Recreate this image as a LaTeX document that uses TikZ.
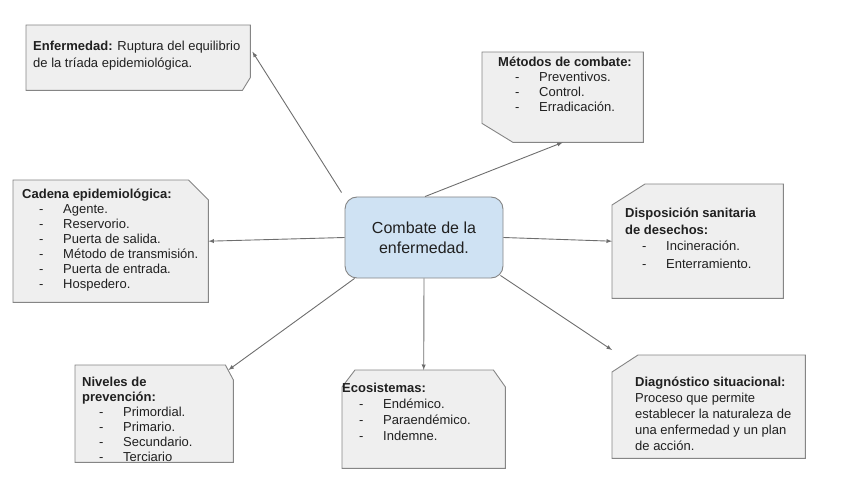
\documentclass[tikz,border=0pt]{standalone}
\usepackage{fontspec}
\setmainfont{Liberation Sans}
\usepackage{xcolor}
\usepackage{tikz}
\usetikzlibrary{calc, positioning}

\definecolor{cajagris}{HTML}{EFEFEF}
\definecolor{bordegris}{HTML}{858585}
\definecolor{azulclaro}{HTML}{CFE2F3}
\definecolor{flechagris}{HTML}{6E6E6E}
\definecolor{texto}{HTML}{202020}

\tikzset{
    zona/.style={inner sep=0pt, anchor=north west},
    contorno/.style={draw=bordegris, fill=cajagris, line width=0.9pt},
    txt/.style={inner sep=0pt, anchor=north west, align=left, text=texto,
        font=\fontsize{13}{15}\selectfont},
    centro/.style={draw=bordegris, fill=azulclaro, line width=0.9pt,
        rounded corners=12pt, align=center, text=texto,
        font=\fontsize{16}{20}\selectfont},
    conector/.style={->, draw=flechagris, line width=0.9pt}
}

% guion de lista
\newcommand{\itm}[1]{\hspace*{17pt}\makebox[24pt][l]{-}#1}

\begin{document}
\begin{tikzpicture}[>=latex, x=1pt, y=1pt]
    \useasboundingbox (0,0) rectangle (848,477);

    % Nodo central
    \node[centro, minimum width=158pt, minimum height=81pt] (mid) at (424,239.5)
        {Combate de la\\enfermedad.};

    % Zonas de las cajas
    \node[zona, minimum width=224pt, minimum height=65pt] (enf) at (26,452) {};
    \node[zona, minimum width=161pt, minimum height=90pt] (metodos) at (482,425) {};
    \node[zona, minimum width=195pt, minimum height=122pt] (cadena) at (13,297) {};
    \node[zona, minimum width=171pt, minimum height=114pt] (disposicion) at (612,293) {};
    \node[zona, minimum width=158pt, minimum height=97pt] (niveles) at (75,112) {};
    \node[zona, minimum width=163pt, minimum height=98pt] (ecosis) at (342,107) {};
    \node[zona, minimum width=193pt, minimum height=103pt] (diagnos) at (612,122) {};

    % Contornos con esquina cortada
    \draw[contorno] (enf.north west) -- (enf.north east)
        -- ([shift={(0,13)}]enf.south east) -- ([shift={(-8,0)}]enf.south east)
        -- (enf.south west) -- cycle;
    \draw[contorno] (metodos.north west) -- (metodos.north east)
        -- (metodos.south east) -- ([shift={(31,0)}]metodos.south west)
        -- ([shift={(0,19)}]metodos.south west) -- cycle;
    \draw[contorno] (cadena.north west) -- ([shift={(-20,0)}]cadena.north east)
        -- ([shift={(0,-20)}]cadena.north east) -- (cadena.south east)
        -- (cadena.south west) -- cycle;
    \draw[contorno] ([shift={(33,0)}]disposicion.north west) -- (disposicion.north east)
        -- (disposicion.south east) -- (disposicion.south west)
        -- ([shift={(0,-21)}]disposicion.north west) -- cycle;
    \draw[contorno] (niveles.north west) -- ([shift={(-8,0)}]niveles.north east)
        -- ([shift={(0,-15)}]niveles.north east) -- (niveles.south east)
        -- (niveles.south west) -- cycle;
    \draw[contorno] ([shift={(13,0)}]ecosis.north west) -- ([shift={(-12,0)}]ecosis.north east)
        -- ([shift={(0,-17)}]ecosis.north east) -- (ecosis.south east)
        -- (ecosis.south west) -- ([shift={(0,-17)}]ecosis.north west) -- cycle;
    \draw[contorno] ([shift={(26,0)}]diagnos.north west) -- (diagnos.north east)
        -- (diagnos.south east) -- (diagnos.south west)
        -- ([shift={(0,-17)}]diagnos.north west) -- cycle;

    % Textos
    \node[txt, font=\fontsize{13}{17}\selectfont] (tenf) at (33,439)
        {\strut\textbf{Enfermedad:} Ruptura del equilibrio\\de la tríada epidemiológica.};
    \node[txt] (tmetodos) at (498,421)
        {\strut\textbf{Métodos de combate:}\\\itm{Preventivos.}\\\itm{Control.}\\\itm{Erradicación.}};
    \node[txt] (tcadena) at (22,289)
        {\strut\textbf{Cadena epidemiológica:}\\\itm{Agente.}\\\itm{Reservorio.}\\
         \itm{Puerta de salida.}\\\itm{Método de transmisión.}\\\itm{Puerta de entrada.}\\
         \itm{Hospedero.}};
    \node[txt, font=\fontsize{13}{16.5}\selectfont] (tdisposicion) at (625,271)
        {\strut\textbf{Disposición sanitaria}\\\textbf{de desechos:}\\\itm{Incineración.}\\[1.5pt]
         \itm{Enterramiento.}};
    \node[txt] (tniveles) at (82,101)
        {\strut\textbf{Niveles de}\\\textbf{prevención:}\\\itm{Primordial.}\\\itm{Primario.}\\
         \itm{Secundario.}\\\itm{Terciario}};
    \node[txt, font=\fontsize{13}{16}\selectfont] (tecosis) at (342,96)
        {\strut\textbf{Ecosistemas:}\\\itm{Endémico.}\\\itm{Paraendémico.}\\\itm{Indemne.}};
    \node[txt, font=\fontsize{13}{16}\selectfont] (tdiagnos) at (635,102)
        {\strut\textbf{Diagnóstico situacional:}\\Proceso que permite\\establecer la naturaleza de\\
         una enfermedad y un plan\\de acción.};

    % Conectores
    \draw[conector] ([shift={(-3,4)}]mid.north west) -- ([shift={(2,6)}]enf.east);
    \draw[conector] ([shift={(1,0)}]mid.north) -- (metodos.south);
    \draw[conector] (mid.west) -- (cadena.east);
    \draw[conector] (mid.east) -- (disposicion.west);
    \draw[conector] ([shift={(10,0)}]mid.south west) -- ([shift={(-5,-5)}]niveles.north east);
    \draw[conector] (mid.south) -- (ecosis.north);
    \draw[conector] ([shift={(-3,3)}]mid.south east) -- ([shift={(0,5)}]diagnos.north west);
\end{tikzpicture}
\end{document}
